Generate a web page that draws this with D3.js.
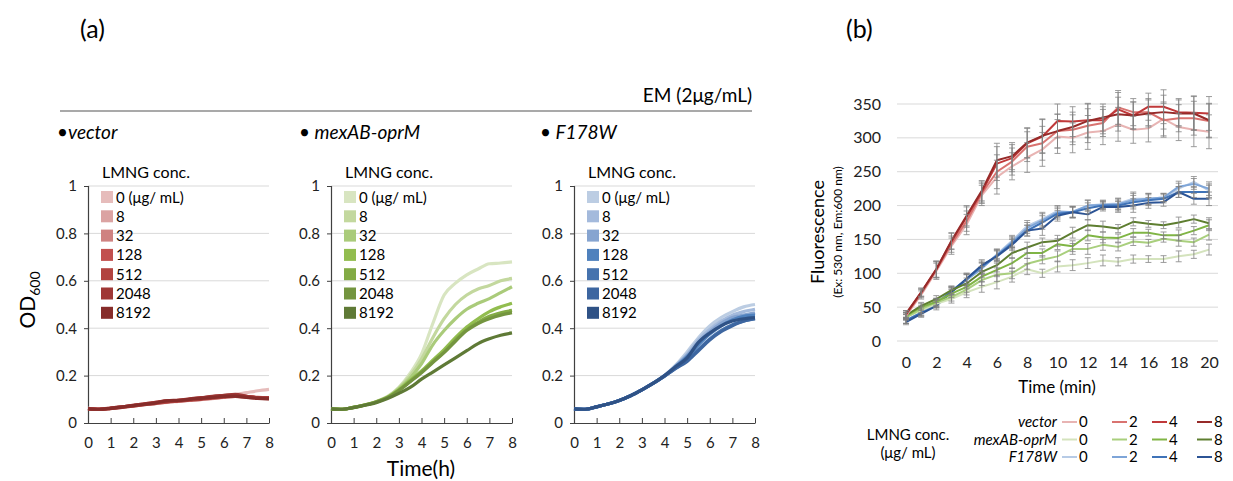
<!DOCTYPE html>
<html>
<head>
<meta charset="utf-8">
<script src="https://cdn.jsdelivr.net/npm/d3@7"></script>
<style>
  body { margin: 0; background: #fff; }
  svg { font-family: Lato, 'Open Sans', sans-serif; }
</style>
</head>
<body>
<svg id="chart" width="1233" height="481"></svg>
<script>
// ---- panel (a) data: OD600 vs time (h) ----
const hours = [0, 0.5, 1, 1.5, 2, 2.5, 3, 3.5, 4, 4.5, 5, 5.5, 6, 6.5, 7, 7.5, 8]
const concA = ['0 (μg/ mL)', '8', '32', '128', '512', '2048', '8192']
const hourTicks = [0, 1, 2, 3, 4, 5, 6, 7, 8]
const odTicks = [0, 0.2, 0.4, 0.6, 0.8, 1]

const vectorOD = [
  [0.062, 0.058, 0.062, 0.066, 0.071, 0.077, 0.082, 0.087, 0.091, 0.095, 0.099, 0.103, 0.110, 0.120, 0.128, 0.136, 0.142],
  [0.062, 0.058, 0.062, 0.067, 0.072, 0.078, 0.083, 0.088, 0.092, 0.096, 0.100, 0.104, 0.108, 0.112, 0.110, 0.106, 0.104],
  [0.061, 0.058, 0.062, 0.067, 0.073, 0.079, 0.085, 0.091, 0.094, 0.099, 0.103, 0.108, 0.112, 0.115, 0.112, 0.107, 0.105],
  [0.061, 0.059, 0.063, 0.068, 0.075, 0.081, 0.087, 0.093, 0.096, 0.101, 0.106, 0.111, 0.115, 0.118, 0.113, 0.108, 0.107],
  [0.060, 0.058, 0.061, 0.066, 0.071, 0.077, 0.083, 0.088, 0.092, 0.096, 0.100, 0.105, 0.109, 0.112, 0.109, 0.105, 0.103],
  [0.061, 0.058, 0.063, 0.068, 0.075, 0.081, 0.087, 0.094, 0.097, 0.102, 0.107, 0.113, 0.117, 0.121, 0.113, 0.107, 0.106],
  [0.060, 0.058, 0.062, 0.067, 0.073, 0.079, 0.085, 0.093, 0.095, 0.100, 0.104, 0.108, 0.112, 0.113, 0.108, 0.104, 0.102],
]
const mexOD = [
  [0.060, 0.058, 0.066, 0.077, 0.091, 0.112, 0.150, 0.210, 0.290, 0.420, 0.540, 0.590, 0.625, 0.650, 0.672, 0.675, 0.680],
  [0.060, 0.058, 0.066, 0.077, 0.090, 0.110, 0.148, 0.200, 0.270, 0.360, 0.440, 0.500, 0.540, 0.565, 0.580, 0.600, 0.610],
  [0.060, 0.058, 0.066, 0.077, 0.090, 0.110, 0.145, 0.190, 0.250, 0.330, 0.390, 0.440, 0.480, 0.505, 0.525, 0.550, 0.575],
  [0.060, 0.058, 0.066, 0.076, 0.089, 0.108, 0.140, 0.180, 0.220, 0.265, 0.310, 0.360, 0.405, 0.440, 0.470, 0.490, 0.505],
  [0.060, 0.058, 0.066, 0.076, 0.089, 0.108, 0.138, 0.176, 0.215, 0.258, 0.300, 0.350, 0.395, 0.425, 0.450, 0.465, 0.475],
  [0.060, 0.058, 0.066, 0.076, 0.088, 0.107, 0.137, 0.174, 0.212, 0.255, 0.297, 0.345, 0.390, 0.420, 0.440, 0.455, 0.465],
  [0.060, 0.058, 0.065, 0.075, 0.086, 0.103, 0.125, 0.150, 0.185, 0.215, 0.245, 0.275, 0.305, 0.335, 0.355, 0.370, 0.380],
]
const f178OD = [
  [0.060, 0.058, 0.068, 0.080, 0.095, 0.115, 0.140, 0.168, 0.200, 0.245, 0.300, 0.360, 0.410, 0.445, 0.470, 0.490, 0.500],
  [0.060, 0.058, 0.068, 0.080, 0.095, 0.115, 0.140, 0.168, 0.200, 0.242, 0.290, 0.350, 0.395, 0.430, 0.455, 0.470, 0.480],
  [0.060, 0.058, 0.068, 0.080, 0.095, 0.115, 0.140, 0.168, 0.199, 0.240, 0.285, 0.340, 0.385, 0.420, 0.445, 0.455, 0.465],
  [0.060, 0.058, 0.068, 0.080, 0.095, 0.115, 0.140, 0.168, 0.199, 0.238, 0.280, 0.330, 0.375, 0.410, 0.435, 0.450, 0.455],
  [0.060, 0.058, 0.068, 0.080, 0.095, 0.115, 0.140, 0.167, 0.198, 0.232, 0.265, 0.310, 0.355, 0.390, 0.415, 0.430, 0.440],
  [0.060, 0.058, 0.068, 0.080, 0.095, 0.115, 0.140, 0.167, 0.198, 0.230, 0.260, 0.305, 0.350, 0.385, 0.410, 0.430, 0.440],
  [0.060, 0.058, 0.068, 0.080, 0.095, 0.115, 0.140, 0.168, 0.200, 0.238, 0.275, 0.340, 0.380, 0.410, 0.430, 0.440, 0.445],
]
const redsA = ['#e6bcbb', '#dba3a2', '#cf8281', '#c2504e', '#b2433f', '#9f3735', '#862c2a']
const greensA = ['#d8e5c1', '#c3d89e', '#aacb7a', '#92bd4f', '#83ab45', '#74953f', '#5f7a36']
const bluesA = ['#bccde3', '#a4badc', '#86a4d0', '#4f81bd', '#4673ae', '#3d66a0', '#2f5286']

// ---- panel (b) data: fluorescence vs time (min) ----
const minutes = d3.range(0, 21)
const concB = ['0', '2', '4', '8']
const minTicks = [0, 2, 4, 6, 8, 10, 12, 14, 16, 18, 20]
const fluTicks = [0, 50, 100, 150, 200, 250, 300, 350]

const vectorFlu = [
  [37, 68, 103, 140, 172, 215, 242, 258, 271, 283, 302, 300, 308, 310, 320, 312, 314, 328, 316, 312, 309],
  [38, 70, 105, 143, 177, 218, 250, 265, 287, 292, 310, 312, 318, 322, 345, 338, 338, 326, 329, 329, 325],
  [40, 72, 106, 147, 183, 220, 262, 270, 292, 302, 325, 324, 326, 326, 342, 333, 346, 346, 338, 337, 336],
  [40, 72, 106, 148, 185, 222, 267, 273, 293, 303, 310, 316, 325, 330, 335, 333, 336, 338, 336, 336, 326],
]
const mexFlu = [
  [35, 45, 55, 62, 72, 80, 87, 95, 106, 100, 110, 112, 115, 119, 117, 121, 121, 121, 125, 128, 135],
  [35, 47, 57, 65, 76, 90, 98, 100, 114, 120, 125, 136, 136, 142, 139, 147, 145, 151, 148, 146, 157],
  [37, 50, 58, 70, 80, 95, 105, 115, 130, 130, 143, 140, 156, 153, 152, 160, 160, 156, 156, 163, 171],
  [38, 52, 62, 75, 85, 102, 112, 130, 138, 146, 148, 160, 171, 169, 166, 176, 173, 171, 175, 180, 174],
]
const f178Flu = [
  [30, 42, 57, 75, 90, 108, 128, 148, 170, 180, 192, 190, 200, 202, 203, 210, 210, 212, 225, 235, 222],
  [30, 42, 55, 74, 90, 107, 127, 146, 167, 178, 190, 191, 200, 201, 202, 208, 210, 212, 228, 232, 225],
  [30, 42, 55, 73, 92, 110, 126, 144, 163, 175, 188, 190, 196, 200, 200, 205, 208, 210, 220, 220, 220],
  [28, 40, 52, 72, 92, 112, 125, 142, 163, 166, 185, 190, 187, 198, 198, 200, 204, 205, 220, 210, 210],
]
// standard deviations per strain, shared by its four concentrations
const vectorErr = [5, 6, 12, 12, 15, 15, 25, 20, 22, 25, 25, 22, 25, 20, 25, 20, 20, 25, 20, 25, 25]
const mexErr = [4, 5, 5, 6, 8, 8, 10, 8, 8, 6, 8, 8, 8, 8, 6, 6, 5, 5, 8, 6, 8]
const f178Err = [4, 5, 6, 6, 8, 8, 8, 8, 8, 10, 8, 8, 8, 6, 8, 10, 8, 6, 8, 8, 10]
const redsB = ['#e8b4b3', '#d97370', '#c0393a', '#962a29']
const greensB = ['#d4e3bd', '#a9cf7d', '#80b545', '#5e7e30']
const bluesB = ['#b7cbe6', '#7ea5d8', '#3f73b8', '#2c5495']

const svg = d3.select('#chart')

// panel letters
svg.append('text').attr('x', 80).attr('y', 38).attr('font-size', 25).text('(a)')
svg.append('text').attr('x', 846).attr('y', 38).attr('font-size', 25).text('(b)')

// EM header with rule
svg.append('line')
  .attr('x1', 60).attr('x2', 752).attr('y1', 111).attr('y2', 111)
  .attr('stroke', '#8c8c8c').attr('stroke-width', 1.5)
svg.append('text')
  .attr('x', 752).attr('y', 102).attr('text-anchor', 'end')
  .attr('font-size', 19).text('EM (2μg/mL)')

// ---- panel (a) ----
const panelsA = [
  { x0: 88, name: '•vector', nx: 57, data: vectorOD, colors: redsA },
  { x0: 331, name: '• mexAB-oprM', nx: 299, data: mexOD, colors: greensA },
  { x0: 574, name: '• F178W', nx: 540, data: f178OD, colors: bluesA },
]
const yOD = d3.scaleLinear().domain([0, 1]).range([423, 186])

panelsA.forEach((p) => {
  const x = d3.scaleLinear().domain([0, 8]).range([p.x0, p.x0 + 181])
  const g = svg.append('g')

  g.append('text')
    .attr('x', p.nx).attr('y', 139)
    .attr('font-size', 19).attr('font-style', 'italic')
    .text(p.name)

  // gridlines
  g.append('g')
    .selectAll('line')
    .data(odTicks.filter((d) => d > 0))
    .enter()
    .append('line')
    .attr('x1', p.x0).attr('x2', p.x0 + 181)
    .attr('y1', (d) => yOD(d)).attr('y2', (d) => yOD(d))
    .attr('stroke', '#d9d9d9').attr('stroke-width', 1)

  // y axis
  const yAxis = g.append('g')
    .attr('transform', `translate(${p.x0},0)`)
    .call(d3.axisLeft(yOD).tickValues(odTicks).tickSize(4).tickPadding(7).tickFormat(d3.format('~g')))
  yAxis.select('.domain').attr('stroke', '#404040').attr('stroke-width', 1.2)
  yAxis.selectAll('.tick line').attr('stroke', '#404040')
  yAxis.selectAll('text').attr('font-size', 15).attr('font-family', 'Lato, sans-serif').attr('fill', '#222')

  // x axis, ticks pointing up
  const xAxis = g.append('g')
    .attr('transform', 'translate(0,423)')
    .call(d3.axisBottom(x).tickValues(hourTicks).tickSize(-5).tickPadding(14).tickSizeOuter(0))
  xAxis.select('.domain').attr('stroke', '#404040').attr('stroke-width', 1.2)
  xAxis.selectAll('.tick line').attr('stroke', '#404040')
  xAxis.selectAll('text').attr('font-size', 15).attr('font-family', 'Lato, sans-serif').attr('fill', '#222')

  // growth curves
  const line = d3.line()
    .x((d, i) => x(hours[i]))
    .y((d) => yOD(d))
    .curve(d3.curveMonotoneX)
  g.append('g')
    .selectAll('path')
    .data(p.data)
    .enter()
    .append('path')
    .attr('d', line)
    .attr('fill', 'none')
    .attr('stroke', (d, i) => p.colors[i])
    .attr('stroke-width', 3.2)
    .attr('stroke-linejoin', 'round')

  // legend
  g.append('text')
    .attr('x', p.x0 + 14).attr('y', 178)
    .attr('font-size', 16).text('LMNG conc.')
  const leg = g.append('g')
    .selectAll('g')
    .data(concA)
    .enter()
    .append('g')
    .attr('transform', (d, i) => `translate(${p.x0 + 13},${197 + i * 19.3})`)
  leg.append('rect')
    .attr('x', 0).attr('y', -6).attr('width', 12).attr('height', 12)
    .attr('fill', (d, i) => p.colors[i])
  leg.append('text')
    .attr('x', 15).attr('y', 5.5)
    .attr('font-size', 15).text((d) => d)
})

svg.append('text')
  .attr('x', 421).attr('y', 476).attr('text-anchor', 'middle')
  .attr('font-size', 21).text('Time(h)')

const odLabel = svg.append('text')
  .attr('transform', 'translate(35,300) rotate(-90)')
  .attr('text-anchor', 'middle').attr('font-size', 21)
odLabel.append('tspan').text('OD')
odLabel.append('tspan').attr('font-size', 14).attr('dy', 5).text('600')

// ---- panel (b) ----
const xMin = d3.scaleLinear().domain([0, 20]).range([906, 1209])
const yFlu = d3.scaleLinear().domain([0, 350]).range([341, 104])

svg.append('g')
  .selectAll('line')
  .data(fluTicks)
  .enter()
  .append('line')
  .attr('x1', 897).attr('x2', 1218)
  .attr('y1', (d) => yFlu(d)).attr('y2', (d) => yFlu(d))
  .attr('stroke', '#d9d9d9').attr('stroke-width', 1)

const yAxisB = svg.append('g')
  .attr('transform', 'translate(897,0)')
  .call(d3.axisLeft(yFlu).tickValues(fluTicks).tickSize(0).tickPadding(16))
yAxisB.select('.domain').remove()
yAxisB.selectAll('text').attr('font-size', 16).attr('font-family', 'Lato, sans-serif').attr('fill', '#222')

const xAxisB = svg.append('g')
  .attr('transform', 'translate(0,341)')
  .call(d3.axisBottom(xMin).tickValues(minTicks).tickSize(0).tickPadding(16))
xAxisB.select('.domain').remove()
xAxisB.selectAll('text').attr('font-size', 16).attr('font-family', 'Lato, sans-serif').attr('fill', '#222')

svg.append('text')
  .attr('x', 1057).attr('y', 393).attr('text-anchor', 'middle')
  .attr('font-size', 17).text('Time (min)')
svg.append('text')
  .attr('transform', 'translate(824,232) rotate(-90)')
  .attr('text-anchor', 'middle').attr('font-size', 18).text('Fluorescence')
svg.append('text')
  .attr('transform', 'translate(842,232) rotate(-90)')
  .attr('text-anchor', 'middle').attr('font-size', 12).text('(Ex: 530 nm, Em:600 nm)')

const groupsB = [
  { name: 'vector', data: vectorFlu, err: vectorErr, colors: redsB },
  { name: 'mexAB-oprM', data: mexFlu, err: mexErr, colors: greensB },
  { name: 'F178W', data: f178Flu, err: f178Err, colors: bluesB },
]
const lineB = d3.line()
  .x((d, i) => xMin(minutes[i]))
  .y((d) => yFlu(d))

// draw order: blue, green, red like the source
;[groupsB[2], groupsB[1], groupsB[0]].forEach((grp) => {
  const g = svg.append('g')
  g.selectAll('path')
    .data(grp.data)
    .enter()
    .append('path')
    .attr('d', lineB)
    .attr('fill', 'none')
    .attr('stroke', (d, i) => grp.colors[i])
    .attr('stroke-width', 2)
    .attr('stroke-linejoin', 'round')

  // error bars
  grp.data.forEach((series) => {
    const eb = g.append('g')
      .selectAll('g')
      .data(series)
      .enter()
      .append('g')
      .attr('stroke', '#7f7f7f').attr('stroke-width', 0.9).attr('opacity', 0.85)
    eb.append('line')
      .attr('x1', (d, i) => xMin(minutes[i])).attr('x2', (d, i) => xMin(minutes[i]))
      .attr('y1', (d, i) => yFlu(d - grp.err[i])).attr('y2', (d, i) => yFlu(d + grp.err[i]))
    eb.append('line')
      .attr('x1', (d, i) => xMin(minutes[i]) - 3).attr('x2', (d, i) => xMin(minutes[i]) + 3)
      .attr('y1', (d, i) => yFlu(d + grp.err[i])).attr('y2', (d, i) => yFlu(d + grp.err[i]))
    eb.append('line')
      .attr('x1', (d, i) => xMin(minutes[i]) - 3).attr('x2', (d, i) => xMin(minutes[i]) + 3)
      .attr('y1', (d, i) => yFlu(d - grp.err[i])).attr('y2', (d, i) => yFlu(d - grp.err[i]))
  })
})

// legend (b)
svg.append('text')
  .attr('x', 908).attr('y', 440).attr('text-anchor', 'middle')
  .attr('font-size', 15).text('LMNG conc.')
svg.append('text')
  .attr('x', 908).attr('y', 458).attr('text-anchor', 'middle')
  .attr('font-size', 15).text('(μg/ mL)')

const segX = [1062, 1112, 1152, 1197]
groupsB.forEach((grp, r) => {
  const cy = 422 + r * 17.5
  svg.append('text')
    .attr('x', 1057).attr('y', cy + 5).attr('text-anchor', 'end')
    .attr('font-size', 15).attr('font-style', 'italic').text(grp.name)
  concB.forEach((c, j) => {
    svg.append('line')
      .attr('x1', segX[j]).attr('x2', segX[j] + 15)
      .attr('y1', cy).attr('y2', cy)
      .attr('stroke', grp.colors[j]).attr('stroke-width', 2)
    svg.append('text')
      .attr('x', segX[j] + 17).attr('y', cy + 5)
      .attr('font-size', 15).text(c)
  })
})
</script>
</body>
</html>
